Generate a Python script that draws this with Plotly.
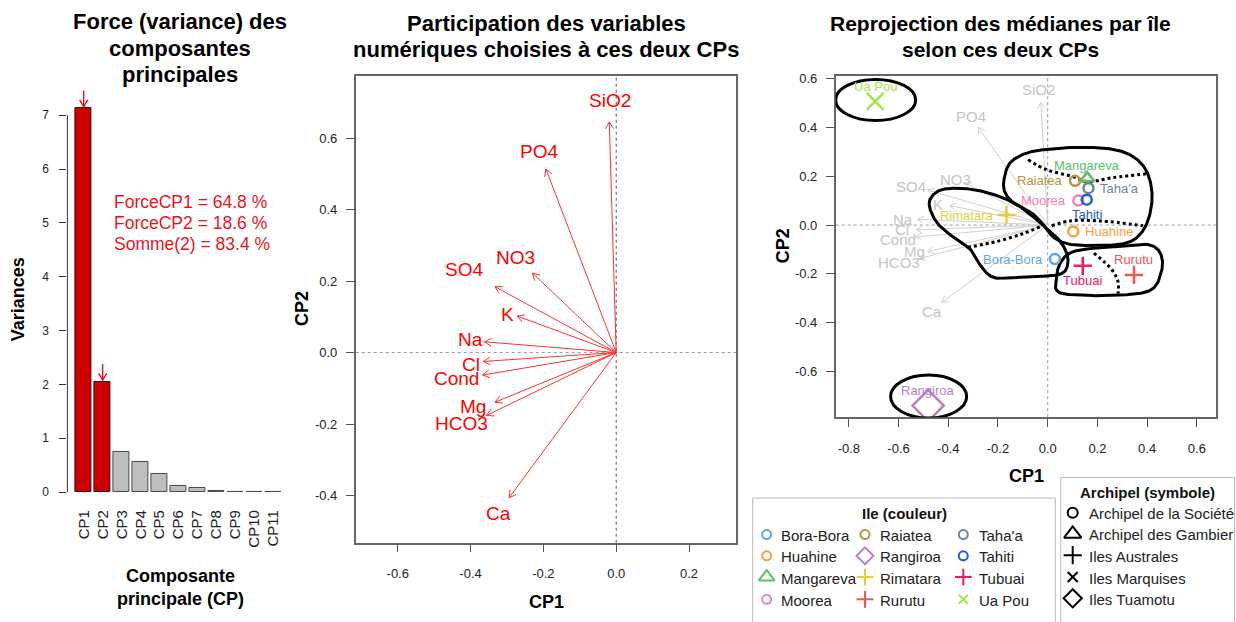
import math
import numpy as np
import plotly.graph_objects as go

W, H = 1236, 622
FONT = "Liberation Sans, Arial, Helvetica, sans-serif"

# ------------------------------------------------------------------ data
cp_labels = ["CP1", "CP2", "CP3", "CP4", "CP5", "CP6", "CP7", "CP8", "CP9", "CP10", "CP11"]
cp_variances = [7.13, 2.05, 0.74, 0.56, 0.34, 0.11, 0.07, 0.025, 0.012, 0.006, 0.004]
cp_force_pct = [64.8, 18.6]

var_names = ["SiO2", "PO4", "NO3", "SO4", "K", "Na", "Cl", "Cond", "Mg", "HCO3", "Ca"]
var_cp1 = [-0.019, -0.193, -0.230, -0.333, -0.272, -0.362, -0.365, -0.367, -0.333, -0.356, -0.294]
var_cp2 = [0.645, 0.513, 0.222, 0.184, 0.102, 0.030, -0.025, -0.063, -0.139, -0.176, -0.406]

islands = ["Bora-Bora", "Huahine", "Mangareva", "Moorea", "Raiatea", "Rangiroa",
           "Rimatara", "Rurutu", "Taha'a", "Tahiti", "Tubuai", "Ua Pou"]
island_cp1 = [0.029, 0.103, 0.159, 0.123, 0.110, -0.481, -0.166, 0.347, 0.164, 0.157, 0.141, -0.694]
island_cp2 = [-0.139, -0.026, 0.192, 0.100, 0.181, -0.739, 0.041, -0.204, 0.151, 0.104, -0.167, 0.506]
island_archipel = ["Archipel de la Société", "Archipel de la Société", "Archipel des Gambier",
                   "Archipel de la Société", "Archipel de la Société", "Iles Tuamotu",
                   "Iles Australes", "Iles Australes", "Archipel de la Société",
                   "Archipel de la Société", "Iles Australes", "Iles Marquises"]
archipels = ["Archipel de la Société", "Archipel des Gambier", "Iles Australes",
             "Iles Marquises", "Iles Tuamotu"]

# scaling of the variable arrows re-projected in the island panel
reproj_scale = (1.45, 0.78)

# hand-drawn group outlines (panel 3, data units)
outline_blobs = [
    [(-0.176, 0.186), (-0.152, 0.254), (-0.087, 0.294), (-0.003, 0.310), (0.130, 0.318),
     (0.263, 0.310), (0.347, 0.278), (0.399, 0.218), (0.420, 0.126), (0.407, 0.029),
     (0.371, -0.039), (0.311, -0.075), (0.198, -0.083), (0.090, -0.079), (0.025, -0.051),
     (-0.007, -0.011), (-0.059, 0.045), (-0.136, 0.090), (-0.172, 0.134)],
    [(-0.477, 0.086), (-0.449, 0.134), (-0.393, 0.150), (-0.305, 0.146), (-0.208, 0.122),
     (-0.128, 0.086), (-0.067, 0.041), (-0.011, -0.007), (0.037, -0.051), (0.070, -0.099),
     (0.082, -0.147), (0.066, -0.192), (0.009, -0.208), (-0.111, -0.212), (-0.212, -0.216),
     (-0.264, -0.175), (-0.308, -0.103), (-0.373, -0.055), (-0.445, 0.009)],
    [(0.033, -0.236), (0.045, -0.167), (0.082, -0.119), (0.150, -0.099), (0.292, -0.087),
     (0.399, -0.079), (0.451, -0.111), (0.459, -0.184), (0.411, -0.268), (0.251, -0.288),
     (0.082, -0.284), (0.037, -0.268)],
]
outline_dotted = [
    [(-0.079, 0.267), (-0.003, 0.226), (0.102, 0.198), (0.158, 0.178), (0.263, 0.194), (0.400, 0.210)],
    [(0.016, -0.003), (0.090, 0.017), (0.210, 0.017), (0.383, -0.003)],
    [(-0.321, -0.091), (-0.204, -0.067), (-0.099, -0.035), (-0.031, -0.007)],
    [(0.186, -0.115), (0.259, -0.184), (0.283, -0.232), (0.283, -0.280)],
]
outline_ellipses = [(-0.692, 0.512, 0.161, 0.084), (-0.479, -0.702, 0.153, 0.088)]

# ------------------------------------------------------------------ styles
island_colors = {
    "Bora-Bora": "#5DA8E0", "Huahine": "#F5A03C", "Mangareva": "#5CBF6A", "Moorea": "#F27FB5",
    "Raiatea": "#B5963A", "Rangiroa": "#B77FC7", "Rimatara": "#E3CE35", "Rurutu": "#F25555",
    "Taha'a": "#6F8598", "Tahiti": "#1F5BD6", "Tubuai": "#F5175F", "Ua Pou": "#A8E34A",
}
arch_symbol = {"Archipel de la Société": "circle-open", "Archipel des Gambier": "triangle-up-open",
               "Iles Australes": "cross-thin-open", "Iles Marquises": "x-thin-open",
               "Iles Tuamotu": "diamond-open"}
arch_size_plot = {"Archipel de la Société": 10, "Archipel des Gambier": 12, "Iles Australes": 13,
                  "Iles Marquises": 17, "Iles Tuamotu": 24}
arch_size_leg = {"Archipel de la Société": 9, "Archipel des Gambier": 14, "Iles Australes": 12,
                 "Iles Marquises": 9, "Iles Tuamotu": 13}
# R text "pos": 1 below, 2 left, 3 above, 4 right
island_label_pos = {"Bora-Bora": 2, "Huahine": 4, "Mangareva": 3, "Moorea": 2, "Raiatea": 2,
                    "Rangiroa": 3, "Rimatara": 2, "Rurutu": 3, "Taha'a": 4, "Tahiti": 1,
                    "Tubuai": 1, "Ua Pou": 3}
red_label_shift = {"SiO2": (1, 21), "PO4": (-7, 18), "NO3": (-17, 16), "SO4": (-31, 17),
                   "K": (-10, 2), "Na": (-14, 2), "Cl": (-12, -3), "Cond": (-26, -3),
                   "Mg": (-22, -4), "HCO3": (-25, -8), "Ca": (-11, -16)}
gray_label_shift = {"SiO2": (-2, 13), "PO4": (-7, 11), "NO3": (-9, 3), "SO4": (-17, 3),
                    "K": (-12, 1), "Na": (-14, 0), "Cl": (-14, 0), "Cond": (-17, -2),
                    "Mg": (-13, 0), "HCO3": (-20, -4), "Ca": (-10, -9)}


def px_x(p):
    return p / W


def px_y(p):
    return 1 - p / H


# subplot geometry (pixels)
P1 = dict(x=(67.4, 293.0), y=(79.5, 496.7), xr=(-0.328, 13.928), yr=(0, 7.6))
P2 = dict(x=(355.7, 736.0), y=(72.7, 548.3), xr=(-0.7155, 0.329), yr=(-0.532, 0.7726))
P3 = dict(x=(835.7, 1216.0), y=(72.7, 420.3), xr=(-0.8528, 0.677), yr=(-0.7864, 0.6088))


def scale(P):
    kx = (P["x"][1] - P["x"][0]) / (P["xr"][1] - P["xr"][0])
    ky = (P["y"][1] - P["y"][0]) / (P["yr"][1] - P["yr"][0])
    return kx, ky


def arrows(x0s, y0s, x1s, y1s, P, L=8.0, ang=30.0):
    kx, ky = scale(P)
    xs, ys = [], []
    for x0, y0, x1, y1 in zip(x0s, y0s, x1s, y1s):
        xs += [x0, x1, None]
        ys += [y0, y1, None]
        dx, dy = (x1 - x0) * kx, (y1 - y0) * ky
        n = math.hypot(dx, dy)
        ux, uy = dx / n, dy / n
        pts = []
        for s in (1, -1):
            a = math.radians(ang * s)
            rx = ux * math.cos(a) - uy * math.sin(a)
            ry = ux * math.sin(a) + uy * math.cos(a)
            pts.append((x1 - L * rx / kx, y1 - L * ry / ky))
        xs += [pts[0][0], x1, pts[1][0], None]
        ys += [pts[0][1], y1, pts[1][1], None]
    return xs, ys


def closed_curve(pts, n=24):
    P = np.array(pts, dtype=float)
    N = len(P)
    t = np.linspace(0, 1, n, endpoint=False)[:, None]
    out = []
    for i in range(N):
        p0, p1, p2, p3 = P[(i - 1) % N], P[i], P[(i + 1) % N], P[(i + 2) % N]
        out.append(0.5 * ((2 * p1) + (-p0 + p2) * t + (2 * p0 - 5 * p1 + 4 * p2 - p3) * t ** 2
                          + (-p0 + 3 * p1 - 3 * p2 + p3) * t ** 3))
    out = np.vstack(out + [P[:1]])
    return out[:, 0], out[:, 1]


fig = go.Figure()
annotations = []
shapes = []

# ================================================================ panel 1
bar_x = [0.7 + 1.2 * i for i in range(len(cp_variances))]
n_sel = len(cp_force_pct)
fig.add_trace(go.Bar(
    x=bar_x, y=cp_variances, width=1.0, xaxis="x", yaxis="y",
    marker=dict(color=["#CC0000" if i < n_sel else "#BEBEBE" for i in range(len(bar_x))],
                line=dict(color=["#3A1010" if i < n_sel else "#4A4A4A" for i in range(len(bar_x))],
                          width=1)),
    showlegend=False, hoverinfo="skip"))
ax, ay = arrows([bar_x[i] for i in range(n_sel)], [cp_variances[i] + 0.33 for i in range(n_sel)],
                [bar_x[i] for i in range(n_sel)], [cp_variances[i] + 0.03 for i in range(n_sel)], P1)
fig.add_trace(go.Scatter(x=ax, y=ay, mode="lines", xaxis="x", yaxis="y",
                         line=dict(color="#E8141B", width=1.4), showlegend=False, hoverinfo="skip"))
shapes.append(dict(type="line", xref="paper", yref="y", x0=px_x(P1["x"][0]), x1=px_x(P1["x"][0]),
                   y0=0, y1=7, line=dict(color="#333", width=1)))
pct_lines = [f"ForceCP{i + 1} = {p:.1f} %" for i, p in enumerate(cp_force_pct)]
pct_lines.append(f"Somme({n_sel}) = {sum(cp_force_pct):.1f} %")
for k, txt in enumerate(pct_lines):
    annotations.append(dict(xref="x", yref="y", x=2.47, y=5.0 + (1 - k) * 0.384, text=txt,
                            showarrow=False, xanchor="left", yanchor="middle",
                            font=dict(family=FONT, size=17.5, color="#E8141B")))

# ================================================================ panel 2
lx, ly = arrows([0] * len(var_names), [0] * len(var_names), var_cp1, var_cp2, P2)
fig.add_trace(go.Scatter(x=lx, y=ly, mode="lines", xaxis="x2", yaxis="y2",
                         line=dict(color="#FF3030", width=1), showlegend=False, hoverinfo="skip"))
for v, x, y in zip(var_names, var_cp1, var_cp2):
    dx, dy = red_label_shift[v]
    annotations.append(dict(xref="x2", yref="y2", x=x, y=y, text=v, showarrow=False,
                            xshift=dx, yshift=dy, xanchor="center", yanchor="middle",
                            font=dict(family=FONT, size=19, color="#FF0000")))

# ================================================================ panel 3
gx = [v * reproj_scale[0] for v in var_cp1]
gy = [v * reproj_scale[1] for v in var_cp2]
lx, ly = arrows([0] * len(gx), [0] * len(gy), gx, gy, P3, L=7)
fig.add_trace(go.Scatter(x=lx, y=ly, mode="lines", xaxis="x3", yaxis="y3",
                         line=dict(color="#CFCFCF", width=1), showlegend=False, hoverinfo="skip"))
for v, x, y in zip(var_names, gx, gy):
    dx, dy = gray_label_shift[v]
    annotations.append(dict(xref="x3", yref="y3", x=x, y=y, text=v, showarrow=False,
                            xshift=dx, yshift=dy, xanchor="center", yanchor="middle",
                            font=dict(family=FONT, size=15, color="#C4C4C4")))

for pts in outline_blobs:
    cx, cy = closed_curve(pts)
    fig.add_trace(go.Scatter(x=cx, y=cy, mode="lines", xaxis="x3", yaxis="y3",
                             line=dict(color="black", width=3), showlegend=False, hoverinfo="skip"))
for pts in outline_dotted:
    fig.add_trace(go.Scatter(x=[p[0] for p in pts], y=[p[1] for p in pts], mode="lines",
                             xaxis="x3", yaxis="y3",
                             line=dict(color="black", width=3, dash="3px,3px", shape="spline"),
                             showlegend=False, hoverinfo="skip"))
for cx, cy, rx, ry in outline_ellipses:
    shapes.append(dict(type="circle", xref="x3", yref="y3", x0=cx - rx, x1=cx + rx,
                       y0=cy - ry, y1=cy + ry, line=dict(color="black", width=3)))

for name, x, y, arch in zip(islands, island_cp1, island_cp2, island_archipel):
    col = island_colors[name]
    fig.add_trace(go.Scatter(x=[x], y=[y], mode="markers", xaxis="x3", yaxis="y3",
                             marker=dict(symbol=arch_symbol[arch], size=arch_size_plot[arch],
                                         color=col, line=dict(color=col, width=2.5)),
                             showlegend=False, hoverinfo="skip"))
    pos = island_label_pos[name]
    a = dict(xref="x3", yref="y3", x=x, y=y, text=name, showarrow=False,
             font=dict(family=FONT, size=13, color=col))
    if pos == 2:
        a.update(xanchor="right", yanchor="middle", xshift=-10)
    elif pos == 4:
        a.update(xanchor="left", yanchor="middle", xshift=10)
    elif pos == 3:
        a.update(xanchor="center", yanchor="middle", yshift=15 if arch != "Archipel des Gambier" else 13)
    else:
        a.update(xanchor="center", yanchor="middle", yshift=-15)
    annotations.append(a)

# zero reference lines
for xr, yr, vcol, hcol in (("x2", "y2", "#555", "#999"), ("x3", "y3", "#999", "#999")):
    shapes.append(dict(type="line", xref=xr, yref=f"{yr} domain", x0=0, x1=0, y0=0, y1=1,
                       layer="below", line=dict(color=vcol, width=1, dash="dot")))
    shapes.append(dict(type="line", xref=f"{xr} domain", yref=yr, x0=0, x1=1, y0=0, y1=0,
                       layer="below", line=dict(color=hcol, width=1, dash="dot")))

# ================================================================ legends (pixel overlay axis)
leg_col_mx = [766.7, 865.0, 963.3]
leg_col_tx = [779.0, 877.7, 976.7]
leg_row_y = [540.0, 561.7, 583.3, 606.0]
shapes.append(dict(type="rect", xref="paper", yref="paper", x0=px_x(752.7), x1=px_x(1055.3),
                   y0=px_y(640), y1=px_y(502.7), line=dict(color="#BBBBBB", width=1)))
annotations.append(dict(xref="paper", yref="paper", x=px_x(904), y=px_y(519),
                        text="<b>Ile (couleur)</b>", showarrow=False, xanchor="center",
                        yanchor="middle", font=dict(family=FONT, size=15, color="#111")))
for i, (name, arch) in enumerate(zip(islands, island_archipel)):
    c, r = i // 4, i % 4
    col = island_colors[name]
    fig.add_trace(go.Scatter(x=[leg_col_mx[c]], y=[leg_row_y[r]], mode="markers",
                             xaxis="x4", yaxis="y4",
                             marker=dict(symbol=arch_symbol[arch], size=arch_size_leg[arch],
                                         color=col, line=dict(color=col, width=2)),
                             showlegend=False, hoverinfo="skip"))
    annotations.append(dict(xref="paper", yref="paper", x=px_x(leg_col_tx[c]), y=px_y(leg_row_y[r] + 1),
                            text=name, showarrow=False, xanchor="left", yanchor="middle",
                            font=dict(family=FONT, size=15, color="#222")))

arch_leg_mx, arch_leg_tx = 1072.7, 1086.7
arch_leg_y = [517.7, 539.3, 561.0, 583.3, 605.0]
shapes.append(dict(type="rect", xref="paper", yref="paper", x0=px_x(1060.7), x1=px_x(1234.5),
                   y0=px_y(640), y1=px_y(481.7), line=dict(color="#BBBBBB", width=1)))
annotations.append(dict(xref="paper", yref="paper", x=px_x(1147), y=px_y(497),
                        text="<b>Archipel (symbole)</b>", showarrow=False, xanchor="center",
                        yanchor="middle", font=dict(family=FONT, size=15, color="#111")))
for arch, y in zip(archipels, arch_leg_y):
    fig.add_trace(go.Scatter(x=[arch_leg_mx], y=[y], mode="markers", xaxis="x4", yaxis="y4",
                             marker=dict(symbol=arch_symbol[arch], size=arch_size_leg[arch] + 1,
                                         color="black", line=dict(color="black", width=2)),
                             showlegend=False, hoverinfo="skip"))
    annotations.append(dict(xref="paper", yref="paper", x=px_x(arch_leg_tx), y=px_y(y + 1),
                            text=arch, showarrow=False, xanchor="left", yanchor="middle",
                            font=dict(family=FONT, size=15, color="#222")))

# ================================================================ titles / axis titles
def title(lines, cx, ys, size=22):
    for t, y in zip(lines, ys):
        annotations.append(dict(xref="paper", yref="paper", x=px_x(cx), y=px_y(y),
                                text=f"<b>{t}</b>", showarrow=False, xanchor="center",
                                yanchor="middle", font=dict(family=FONT, size=size, color="black")))


title(["Force (variance) des", "composantes", "principales"], 180, [17, 44, 71])
title(["Participation des variables", "numériques choisies à ces deux CPs"], 546, [19, 45])
title(["Reprojection des médianes par île", "selon ces deux CPs"], 1000, [19, 45], size=21)
title(["Composante", "principale (CP)"], 180, [582, 606], size=18)
title(["CP1"], 546, [609], size=18)
title(["CP1"], 1026, [480], size=18)
for x, y, t in ((18, 300, "Variances"), (302, 310, "CP2"), (783, 246, "CP2")):
    annotations.append(dict(xref="paper", yref="paper", x=px_x(x), y=px_y(y), text=f"<b>{t}</b>",
                            showarrow=False, textangle=-90, xanchor="center", yanchor="middle",
                            font=dict(family=FONT, size=18, color="black")))

# ================================================================ axes
tickfont = dict(family=FONT, size=13, color="#222")


def dom(P):
    return [px_x(P["x"][0]), px_x(P["x"][1])], [px_y(P["y"][1]), px_y(P["y"][0])]


def fmt(v):
    return f"{v:.1f}"


d1x, d1y = dom(P1)
d2x, d2y = dom(P2)
d3x, d3y = dom(P3)
box = dict(showline=True, mirror=True, linecolor="#666", linewidth=1.5, ticks="outside",
           ticklen=8, tickcolor="#555", showgrid=False, zeroline=False, tickfont=tickfont)
x2t = [-0.6, -0.4, -0.2, 0.0, 0.2]
y2t = [-0.4, -0.2, 0.0, 0.2, 0.4, 0.6]
x3t = [-0.8, -0.6, -0.4, -0.2, 0.0, 0.2, 0.4, 0.6]
y3t = [-0.6, -0.4, -0.2, 0.0, 0.2, 0.4, 0.6]

fig.update_layout(
    width=W, height=H, margin=dict(l=0, r=0, t=0, b=0), paper_bgcolor="white",
    plot_bgcolor="rgba(0,0,0,0)", showlegend=False, bargap=0,
    xaxis=dict(domain=d1x, range=list(P1["xr"]), tickvals=bar_x, ticktext=cp_labels, tickangle=-90,
               ticks="", showline=False, showgrid=False, zeroline=False, ticklabelstandoff=14,
               tickfont=dict(family=FONT, size=15, color="#222")),
    yaxis=dict(domain=d1y, range=list(P1["yr"]), tickvals=list(range(8)), ticks="outside",
               ticklen=7, tickcolor="#333", showline=False, showgrid=False, zeroline=False,
               ticklabelstandoff=8, tickfont=dict(family=FONT, size=12, color="#222")),
    xaxis2=dict(domain=d2x, range=list(P2["xr"]), anchor="y2", tickvals=x2t,
                ticktext=[fmt(v) for v in x2t], ticklabelstandoff=10, **box),
    yaxis2=dict(domain=d2y, range=list(P2["yr"]), anchor="x2", tickvals=y2t,
                ticktext=[fmt(v) for v in y2t], ticklabelstandoff=6, **box),
    xaxis3=dict(domain=d3x, range=list(P3["xr"]), anchor="y3", tickvals=x3t,
                ticktext=[fmt(v) for v in x3t], ticklabelstandoff=10, **box),
    yaxis3=dict(domain=d3y, range=list(P3["yr"]), anchor="x3", tickvals=y3t,
                ticktext=[fmt(v) for v in y3t], ticklabelstandoff=6, **box),
    xaxis4=dict(domain=[0, 1], range=[0, W], anchor="y4", visible=False, fixedrange=True),
    yaxis4=dict(domain=[0, 1], range=[H, 0], anchor="x4", visible=False, fixedrange=True),
    annotations=annotations, shapes=shapes,
)

fig.write_html("out.html")
